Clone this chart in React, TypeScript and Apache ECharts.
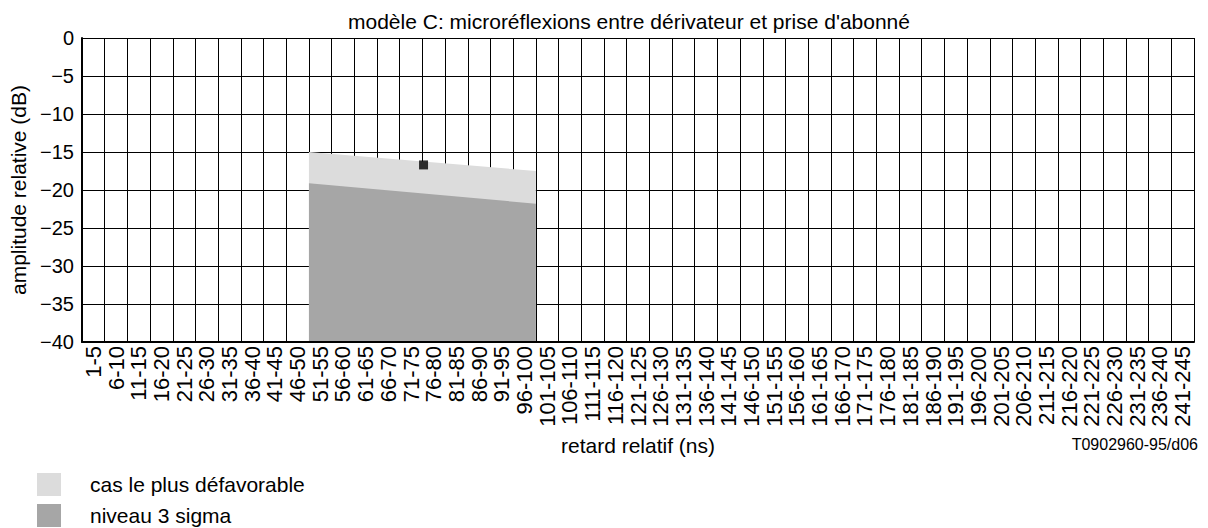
import React, { useEffect, useRef } from "react";
import * as echarts from "echarts";

const titleText = "modèle C: microréflexions entre dérivateur et prise d'abonné";
const yName = "amplitude relative (dB)";
const xName = "retard relatif (ns)";
const refCode = "T0902960-95/d06";

// 49 delay classes: 1-5, 6-10, ... 241-245
const categories: string[] = [
  "1-5", "6-10", "11-15", "16-20", "21-25", "26-30", "31-35", "36-40", "41-45", "46-50",
  "51-55", "56-60", "61-65", "66-70", "71-75", "76-80", "81-85", "86-90", "91-95", "96-100",
  "101-105", "106-110", "111-115", "116-120", "121-125", "126-130", "131-135", "136-140", "141-145", "146-150",
  "151-155", "156-160", "161-165", "166-170", "171-175", "176-180", "181-185", "186-190", "191-195", "196-200",
  "201-205", "206-210", "211-215", "216-220", "221-225", "226-230", "231-235", "236-240", "241-245",
];

// Boundaries in category-cell units (cell 10 start = 51 ns, cell 20 start = 101 ns)
const worstCase: [number, number][] = [
  [10, -15.0],
  [20, -17.5],
];
const sigma3: [number, number][] = [
  [10, -19.1],
  [20, -21.8],
];
const measured: [number, number][] = [[15.05, -16.7]];

const legendNames = ["cas le plus défavorable", "niveau 3 sigma"];

const yMin = -40;
const yMax = 0;
const yInterval = 5;

const FONT = "'Liberation Sans', Arial, Helvetica, sans-serif";

export default function App() {
  const ref = useRef<HTMLDivElement>(null);
  useEffect(() => {
    if (!ref.current) return;
    const chart = echarts.init(ref.current, undefined, { renderer: "svg" });
    const legendBase = {
      orient: "vertical",
      left: 37,
      padding: 0,
      itemWidth: 24,
      itemHeight: 23,
      icon: "rect",
      textStyle: { fontFamily: FONT, fontSize: 21, color: "#000", padding: [0, 0, 0, 24] },
    };
    chart.setOption({
      animation: false,
      backgroundColor: "#ffffff",
      textStyle: { fontFamily: FONT, color: "#000" },
      title: {
        text: titleText,
        left: 343,
        top: 6,
        textStyle: { fontFamily: FONT, fontSize: 21, fontWeight: "normal", color: "#000" },
      },
      legend: [
        { ...legendBase, top: 473, data: [legendNames[0]] },
        { ...legendBase, top: 504, data: [legendNames[1]] },
      ],
      grid: { left: 82, top: 38, right: 14, bottom: 186, containLabel: false },
      xAxis: [
        {
          type: "category",
          data: categories,
          boundaryGap: true,
          z: 0,
          name: xName,
          nameLocation: "middle",
          nameGap: 93,
          nameTextStyle: { fontFamily: FONT, fontSize: 21, color: "#000" },
          axisLine: { show: false },
          axisTick: { show: false },
          axisLabel: {
            interval: 0,
            rotate: 90,
            margin: 4,
            fontFamily: FONT,
            fontSize: 22,
            color: "#000",
          },
          splitLine: { show: true, interval: 0, lineStyle: { color: "#000", width: 1 } },
        },
        {
          type: "value",
          min: 0,
          max: categories.length,
          position: "bottom",
          show: true,
          z: 5,
          axisLine: { show: true, onZero: false, lineStyle: { color: "#000", width: 2 } },
          axisTick: { show: false },
          axisLabel: { show: false },
          splitLine: { show: false },
        },
      ],
      yAxis: {
        type: "value",
        min: yMin,
        max: yMax,
        interval: yInterval,
        name: yName,
        nameLocation: "middle",
        nameGap: 51,
        nameTextStyle: { fontFamily: FONT, fontSize: 21, color: "#000" },
        axisLine: { show: true, lineStyle: { color: "#000", width: 2 } },
        axisTick: { show: false },
        axisLabel: {
          margin: 8,
          fontFamily: FONT,
          fontSize: 20,
          color: "#000",
          formatter: (v: number) => (v < 0 ? "\u2212" + Math.abs(v) : String(v)),
        },
        splitLine: { show: true, lineStyle: { color: "#000", width: 1 } },
      },
      series: [
        {
          name: legendNames[0],
          type: "line",
          xAxisIndex: 1,
          data: worstCase,
          symbol: "none",
          color: "#dcdcdc",
          itemStyle: { color: "#dcdcdc" },
          lineStyle: { width: 0, color: "#dcdcdc" },
          areaStyle: { color: "#dcdcdc", opacity: 1, origin: "start" },
          z: 2,
        },
        {
          name: legendNames[1],
          type: "line",
          xAxisIndex: 1,
          data: sigma3,
          symbol: "none",
          color: "#a6a6a6",
          itemStyle: { color: "#a6a6a6" },
          lineStyle: { width: 0, color: "#a6a6a6" },
          areaStyle: { color: "#a6a6a6", opacity: 1, origin: "start" },
          z: 3,
        },
        {
          name: "mesure",
          type: "scatter",
          xAxisIndex: 1,
          data: measured,
          symbol: "rect",
          symbolSize: 9,
          itemStyle: { color: "#000" },
          z: 4,
        },
      ],
      graphic: [
        {
          type: "text",
          right: 10,
          top: 436,
          style: { text: refCode, fontFamily: FONT, fontSize: 16, fill: "#000" },
        },
      ],
    });
    return () => chart.dispose();
  }, []);
  return (
    <div
      ref={ref}
      style={{ position: "absolute", left: 0, top: 0, width: 1208, height: 528 }}
    />
  );
}
